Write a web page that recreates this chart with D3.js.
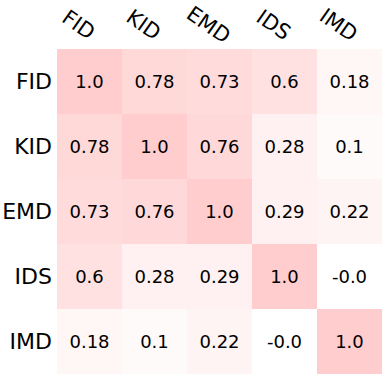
<!DOCTYPE html>
<html><head><meta charset="utf-8">
<script src="https://cdn.jsdelivr.net/npm/d3@7/dist/d3.min.js"></script>
<style>body{margin:0;background:#fff}svg{display:block}text{font-family:"DejaVu Sans",sans-serif}</style>
</head><body>
<svg id="c" width="382" height="375"></svg>
<script>
const labels = ["FID","KID","EMD","IDS","IMD"];
const matrix = [
  [1.0, 0.78, 0.73, 0.6, 0.18],
  [0.78, 1.0, 0.76, 0.28, 0.1],
  [0.73, 0.76, 1.0, 0.29, 0.22],
  [0.6, 0.28, 0.29, 1.0, -0.0],
  [0.18, 0.1, 0.22, -0.0, 1.0]
];
const svg = d3.select("#c");
const x = d3.scaleBand().domain(labels).range([57, 382]);
const y = d3.scaleBand().domain(labels).range([49, 374]);
const color = d3.scaleLinear().domain([0, 1]).range(["#ffffff", "#ffcdcd"]).clamp(true);
const cells = [];
matrix.forEach((row, i) => row.forEach((v, j) => cells.push({r: labels[i], c: labels[j], v})));
svg.selectAll("rect").data(cells).join("rect")
  .attr("x", d => x(d.c)).attr("y", d => y(d.r))
  .attr("width", x.bandwidth()).attr("height", y.bandwidth())
  .attr("fill", d => color(d.v));
const fmt = v => (Object.is(v, -0)) ? "-0.0" : (Number.isInteger(v) ? v.toFixed(1) : String(v));
svg.selectAll("text.v").data(cells).join("text").attr("class", "v")
  .attr("x", d => x(d.c) + x.bandwidth()/2).attr("y", d => y(d.r) + y.bandwidth()/2)
  .attr("text-anchor", "middle").attr("dominant-baseline", "central")
  .attr("font-size", 18).attr("fill", "#000")
  .text(d => fmt(d.v));
svg.selectAll("text.yl").data(labels).join("text").attr("class", "yl")
  .attr("x", 52).attr("y", d => y(d) + y.bandwidth()/2)
  .attr("text-anchor", "end").attr("dominant-baseline", "central")
  .attr("font-size", 22).text(d => d);
svg.selectAll("text.xl").data(labels).join("text").attr("class", "xl")
  .attr("text-anchor", "middle").attr("dominant-baseline", "central")
  .attr("transform", d => `translate(${x(d) + x.bandwidth()/2 - 11},25) rotate(35)`)
  .attr("font-size", 21).text(d => d);
</script>
</body></html>
